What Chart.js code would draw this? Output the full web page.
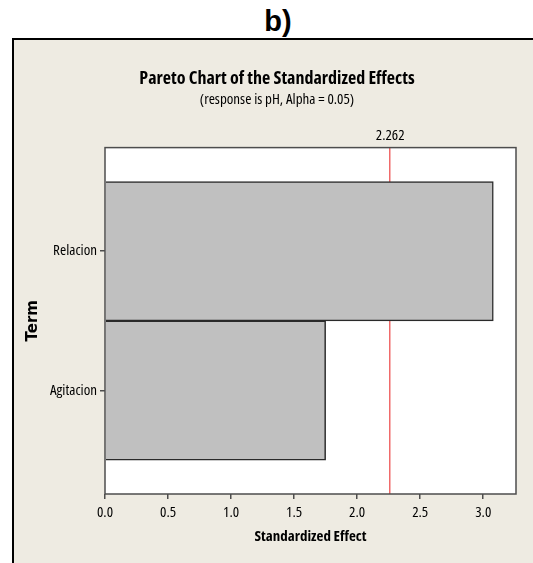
<!DOCTYPE html>
<html>
<head>
<meta charset="utf-8">
<title>Pareto Chart of the Standardized Effects</title>
<script src="https://cdn.jsdelivr.net/npm/chart.js@4.4.1/dist/chart.umd.min.js"></script>
<style>
  body {
    margin: 0;
    width: 533px;
    height: 563px;
    overflow: hidden;
    position: relative;
    background: #ffffff;
  }
  #label {
    position: absolute;
    left: 0;
    top: 7px;
    width: 556px;
    text-align: center;
    font: bold 29px "Liberation Sans", Arial, sans-serif;
    line-height: 1;
  }
  #panel {
    position: absolute;
    left: 12px;
    top: 38px;
    width: 526px;
    height: 525px;
    border-left: 2px solid #000;
    border-top: 2px solid #000;
    background: #eeebe2;
  }
</style>
</head>
<body>
<div id="label">b)</div>
<div id="panel"><canvas id="pareto" width="526" height="523"></canvas></div>

<script>
// terms, sorted by effect size
const terms = ["Relacion", "Agitacion"];
const effects = [3.08, 1.75];
// t critical value for alpha = 0.05
const critical = 2.262;
const xMax = 3.26;
const xTicks = [0, 0.5, 1.0, 1.5, 2.0, 2.5, 3.0];

// condensed sans for all the Minitab-style labels
const cond = "'Open Sans', sans-serif";
const frameColor = "#4d4d4d";

// white plot area with a gray frame
const plotFrame = {
  id: "plotFrame",
  beforeDraw(chart) {
    const a = chart.chartArea;
    const c = chart.ctx;
    c.save();
    c.fillStyle = "#ffffff";
    c.fillRect(a.left, a.top, a.right - a.left, a.bottom - a.top);
    c.restore();
  },
  afterDatasetsDraw(chart) {
    const a = chart.chartArea;
    const c = chart.ctx;
    c.save();
    c.strokeStyle = frameColor;
    c.lineWidth = 1.5;
    c.strokeRect(a.left, a.top, a.right - a.left, a.bottom - a.top);
    c.restore();
  },
};

const ctx = document.getElementById("pareto").getContext("2d");
new Chart(ctx, {
  type: "bar",
  data: {
    datasets: [
      {
        label: "Effect",
        data: effects.map((v, i) => ({ x: v, y: i })),
        backgroundColor: "#c0c0c0",
        borderColor: "#2a2a2a",
        borderWidth: 1.5,
        barPercentage: 1,
        categoryPercentage: 1,
      },
    ],
  },
  plugins: [plotFrame],
  options: {
    indexAxis: "y",
    responsive: false,
    animation: false,
    layout: { padding: { left: 0, right: 0, top: 0, bottom: 17 } },
    plugins: {
      legend: { display: false },
      tooltip: { enabled: false },
      title: {
        display: true,
        text: "Pareto Chart of the Standardized Effects",
        color: "#000",
        font: { family: cond, size: 18, weight: "bold condensed" },
        padding: { top: 28, bottom: 0 },
      },
      subtitle: {
        display: true,
        text: "(response is pH, Alpha = 0.05)",
        color: "#000",
        font: { family: cond, size: 15, weight: "condensed" },
        padding: { top: 1, bottom: 0 },
      },
    },
    scales: {
      x: {
        type: "linear",
        position: "bottom",
        min: 0,
        max: xMax,
        afterBuildTicks: (s) => {
          s.ticks = xTicks.map((v) => ({ value: v }));
        },
        afterFit: (s) => {
          s.height = 52;
        },
        border: { display: false },
        grid: {
          drawOnChartArea: false,
          drawTicks: true,
          tickLength: 5,
          color: frameColor,
          lineWidth: 1.5,
        },
        ticks: {
          color: "#000",
          padding: 5,
          font: { family: cond, size: 15, weight: "condensed" },
          callback: (v) => Number(v).toFixed(1),
        },
        title: {
          display: true,
          text: "Standardized Effect",
          color: "#000",
          font: { family: cond, size: 15, weight: "bold condensed" },
          padding: { top: 0, bottom: 0 },
        },
      },
      // reference line and its label
      xCrit: {
        type: "linear",
        position: "top",
        min: 0,
        max: xMax,
        afterBuildTicks: (s) => {
          s.ticks = [{ value: critical }];
        },
        afterFit: (s) => {
          s.height = 39;
        },
        border: { display: false },
        grid: {
          drawTicks: false,
          color: "#f06a6a",
          lineWidth: 1.5,
        },
        ticks: {
          color: "#000",
          padding: 3,
          font: { family: cond, size: 15, weight: "condensed" },
          callback: (v) => Number(v).toFixed(3),
        },
      },
      y: {
        type: "linear",
        position: "left",
        reverse: true,
        offset: false,
        min: -0.743,
        max: terms.length - 1 + 0.743,
        afterBuildTicks: (s) => {
          s.ticks = terms.map((t, i) => ({ value: i }));
        },
        afterFit: (s) => {
          s.width = 91;
        },
        border: { display: false },
        grid: {
          offset: false,
          drawOnChartArea: false,
          drawTicks: true,
          tickLength: 5,
          color: frameColor,
          lineWidth: 1.5,
        },
        ticks: {
          color: "#000",
          padding: 3,
          font: { family: cond, size: 15, weight: "condensed" },
          callback: (v) => terms[v],
        },
        title: {
          display: true,
          text: "Term",
          color: "#000",
          font: { family: "'DejaVu Sans', Verdana, sans-serif", size: 15, weight: "bold" },
          padding: { top: 10, bottom: 0 },
        },
      },
      // keeps the right margin without moving the titles
      yRight: {
        type: "linear",
        position: "right",
        afterFit: (s) => {
          s.width = 24;
        },
        border: { display: false },
        grid: { display: false },
        ticks: { display: false },
      },
    },
  },
});
</script>
</body>
</html>
